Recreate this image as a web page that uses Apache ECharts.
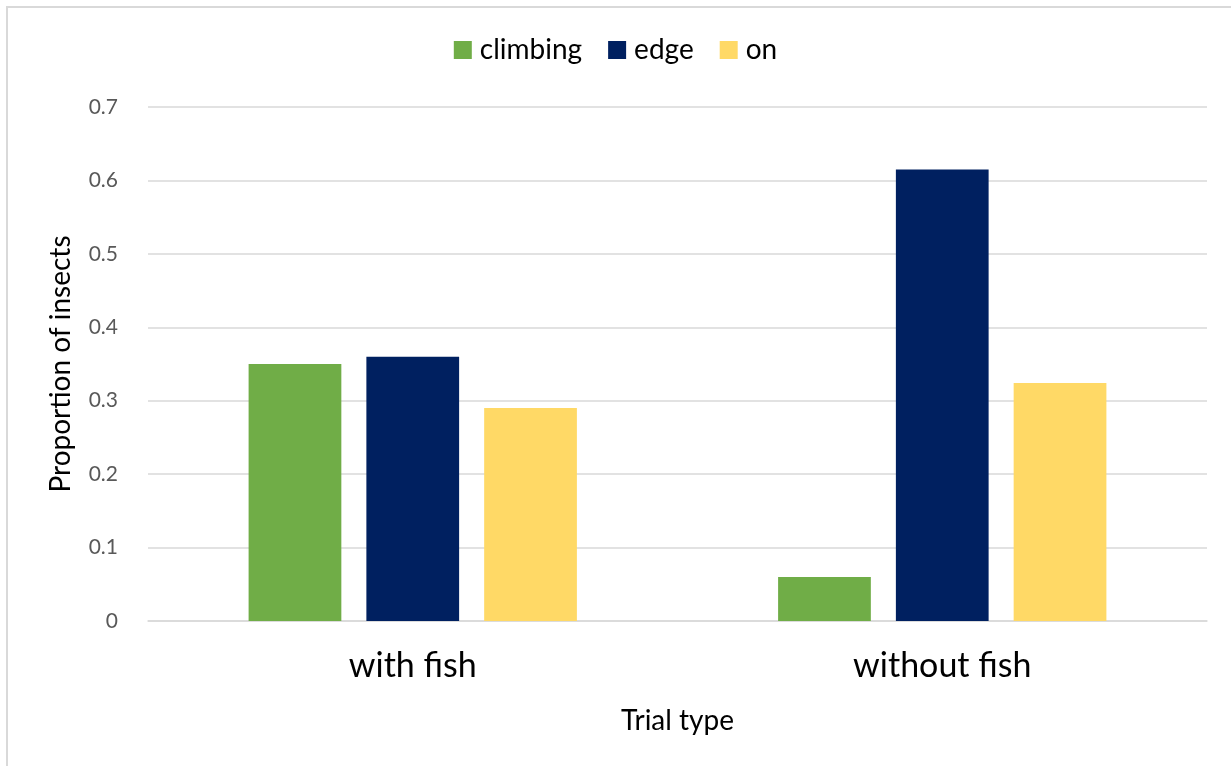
<!DOCTYPE html>
<html>
<head>
<meta charset="utf-8">
<script src="https://cdn.jsdelivr.net/npm/echarts@6/dist/echarts.min.js"></script>
<style>
  html, body { margin: 0; padding: 0; background: #fff; }
  #chart { width: 1231px; height: 766px; }
</style>
</head>
<body>
<div id="chart"></div>
<script>
// Trial types on the x axis
const categories = ['with fish', 'without fish'];
// Proportion of insects at each position
const climbing = [0.35, 0.06];
const edge = [0.36, 0.615];
const on = [0.29, 0.324];
// Value axis ticks
const yTicks = [0, 0.1, 0.2, 0.3, 0.4, 0.5, 0.6, 0.7];

const FONT = 'Lato, "Open Sans", sans-serif';

const chart = echarts.init(document.getElementById('chart'), null, { renderer: 'canvas' });

const barSeries = (name, data, color) => ({
  name: name,
  type: 'bar',
  data: data,
  barGap: '27%',
  barCategoryGap: '38%',
  itemStyle: { color: color },
  emphasis: { disabled: true }
});

chart.setOption({
  animation: false,
  backgroundColor: '#ffffff',
  textStyle: { fontFamily: FONT },
  graphic: [{
    type: 'rect',
    shape: { x: 7, y: 7, width: 1400, height: 900 },
    style: { fill: 'none', stroke: '#d9d9d9', lineWidth: 2 },
    silent: true
  }],
  legend: {
    top: 31,
    left: 'center',
    itemWidth: 18,
    itemHeight: 18,
    itemGap: 26,
    icon: 'rect',
    textStyle: { fontFamily: FONT, fontSize: 28, color: '#000', padding: [0, 0, 0, 3] },
    data: ['climbing', 'edge', 'on']
  },
  grid: { left: 148, right: 24, top: 107, bottom: 145, containLabel: false },
  xAxis: {
    type: 'category',
    data: categories,
    axisLine: { show: true, lineStyle: { color: '#d9d9d9', width: 1.5 } },
    axisTick: { show: false },
    axisLabel: { fontSize: 34, color: '#000', margin: 28, fontFamily: FONT },
    name: 'Trial type',
    nameLocation: 'middle',
    nameGap: 86,
    nameTextStyle: { fontSize: 28, color: '#000', fontFamily: FONT }
  },
  yAxis: {
    type: 'value',
    min: yTicks[0],
    max: yTicks[yTicks.length - 1],
    interval: 0.1,
    axisLine: { show: false },
    axisTick: { show: false },
    splitLine: { lineStyle: { color: '#d9d9d9', width: 1.5 } },
    axisLabel: {
      fontSize: 21, color: '#595959', margin: 30, fontFamily: FONT,
      formatter: v => String(Math.round(v * 10) / 10)
    },
    name: 'Proportion of insects',
    nameLocation: 'middle',
    nameGap: 73,
    nameTextStyle: { fontSize: 28, color: '#000', fontFamily: FONT }
  },
  series: [
    barSeries('climbing', climbing, '#70AD47'),
    barSeries('edge', edge, '#002060'),
    barSeries('on', on, '#FFD966')
  ]
});
</script>
</body>
</html>
